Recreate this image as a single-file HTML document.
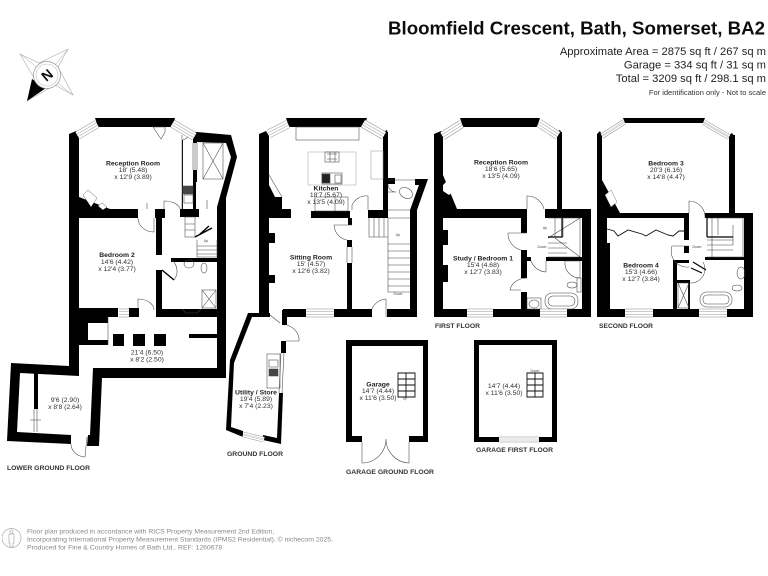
<!DOCTYPE html>
<html><head><meta charset="utf-8"><style>
html,body{margin:0;padding:0;background:#fff;width:768px;height:576px;overflow:hidden}
svg{display:block}
text{font-family:"Liberation Sans",sans-serif}
.r{font-size:6.8px;fill:#333;text-anchor:middle}
.b{font-weight:bold;fill:#222}
.f{font-size:6.6px;font-weight:bold;fill:#333}
.a{font-size:11.2px;fill:#222;text-anchor:end}
.n{font-size:6.85px;fill:#888}
</style></head><body>
<svg width="768" height="576" viewBox="0 0 768 576" xmlns="http://www.w3.org/2000/svg">
<defs>
<filter id="s" x="0" y="0" width="100%" height="100%"><feGaussianBlur stdDeviation="0.35"/></filter>
<path id="win" d="M77.500,135.500L97,124M172.500,123.500L194.500,136.500M268.500,134L288,124M363,123.500L384,135.500M442.500,136L461.500,124M539,123L558,135.500M119,313H129M306,313H334M467,313H493M540,313H567M625,313H653M699,313H727"/>
<path id="win2" d="M602,136L624,122M704,122.500L729,137M243,434.500L264,439.500M499,439.500H539"/>
</defs>
<g filter="url(#s)">

<!-- LOWER GROUND -->
<g fill="#000">
<polygon points="69,134 76,131 79,136 79,197 110,209 138,209 138,218 79,218 79,308 118,308 118,317 79,317 79,345 79,376 20,373 17,432 71,435 71,444 7,441 11,363 69,366"/>
<polygon points="95,118 175,118 173,127 98,127"/>
<polygon points="193,132 197,132 231,135 237,157 226,198 226,378 102,378 99,446 87,446 88,435 90,435 93,368 217,368 217,207 231,157 226,143 197,142"/>
<rect x="155" y="209" width="10" height="9"/><rect x="156" y="218" width="6" height="37"/>
<rect x="156" y="270" width="6" height="47"/><rect x="156" y="309" width="61" height="8"/>
<rect x="180" y="209" width="19" height="8"/><rect x="171" y="258" width="46" height="4"/>
<rect x="193" y="170" width="4" height="12"/><rect x="193" y="134" width="4" height="9"/><rect x="193" y="182" width="3" height="27"/>
<rect x="129" y="308" width="10" height="9"/>
<rect x="113" y="334" width="11" height="12"/><rect x="133" y="334" width="12" height="12"/><rect x="154" y="334" width="12" height="12"/>
<rect x="189" y="334" width="28" height="4"/><rect x="79" y="340" width="29" height="5"/><rect x="79" y="317" width="29" height="6"/>
<rect x="34" y="373" width="4" height="36"/><rect x="79" y="323" width="9" height="17"/>
<rect x="182" y="140" width="1" height="70"/>
</g>
<g fill="#fff" stroke="#333" stroke-width=".4">
<polygon points="83,195 88,190 97,198 91,207"/><polygon points="98,206 102,203 107,207 103,210"/><rect x="88" y="323" width="20" height="17" stroke="none"/>
</g>
<g fill="none" stroke="#444" stroke-width=".55">
<path d="M138,218A16,14 0 0 0 154,232V218M164,209V201A16,9 0 0 1 180,209M172,260A18,16 0 0 1 174,280M138,309V299A16,11 0 0 1 154,310M71,444A15,13 0 0 0 85,457L87,437"/>
<path d="M147,203V209M207,200V209M34,409V432M37,409V432M30,420H41"/>
<path d="M182,135V209M183,140L193,135M153,127H165V132L161,139L157,133Z"/>
<rect x="203" y="143" width="20" height="36"/><path d="M203,143L223,179M223,143L203,179"/>
<rect x="183" y="186" width="10" height="8" fill="#444"/><rect x="184" y="195" width="9" height="8"/>
<rect x="185" y="217" width="10" height="20"/><path d="M185,224H195M185,230H195"/>
<path d="M197,240V257H217V240M197,246H217M197,250H217M197,254H217"/>
<ellipse cx="189" cy="264" rx="5" ry="4"/><ellipse cx="204" cy="268" rx="3" ry="5"/><rect x="202" y="290" width="14" height="18"/><path d="M202,290L216,308M216,290L202,308"/>
<path d="M182,309L186,313H197L201,309"/><path d="M108,317V345"/>
<path d="M193,143V170M197,143V170M195,143V170"/>
</g>
<path d="M195,237L212,228M199,235L209,226M162,270L174,280" stroke="#000" stroke-width="1.4" fill="none"/>

<!-- GROUND -->
<g fill="#000">
<polygon points="259,134 266,131 269,136 269,185 275,197 282,197 282,209 291,209 291,218 269,218 269,233 275,233 275,243 269,243 269,275 275,275 275,283 269,283 269,313 259,313"/>
<polygon points="248,313 270,313 270,317 252,317 234,363 231,427 243,431 243,437 226,430 230,360"/>
<polygon points="286,118 367,118 364,127 289,127"/>
<rect x="383" y="132" width="5" height="78"/><polygon points="383,132 387,130 388,134 383,134"/>
<rect x="311" y="211" width="39" height="7"/><rect x="348" y="218" width="4" height="7"/><rect x="368" y="210" width="20" height="8"/>
<rect x="347" y="240" width="5" height="7"/><rect x="347" y="263" width="5" height="47"/>
<rect x="283" y="309" width="23" height="8"/><rect x="334" y="309" width="38" height="8"/><rect x="387" y="309" width="30" height="8"/>
<polygon points="415,179 428,179 417,210 417,317 410,317 410,210 419,185 415,185"/>
<rect x="388" y="178" width="7" height="6"/>
<rect x="282" y="310" width="5" height="15"/>
<polygon points="263,435 277,438 279,393 283,393 281,444 263,440"/><rect x="281" y="341" width="5" height="12"/>
</g>
<g fill="none" stroke="#444" stroke-width=".55">
<path d="M269,175L282,197"/>
<rect x="296" y="127" width="63" height="13"/><rect x="308" y="152" width="48" height="33" stroke="#aaa"/><rect x="325" y="152" width="14" height="10"/><path d="M327,154H337M327,159H337M330,152V162M335,152V162"/>
<rect x="322" y="173" width="20" height="11"/><rect x="322" y="174" width="8" height="9" fill="#222"/><rect x="335" y="175" width="6" height="8"/>
<rect x="371" y="151" width="12" height="28" stroke="#999"/><rect x="315" y="197" width="33" height="14"/><path d="M335,197V211"/>
<path d="M352,210V205A16,18 0 0 1 368,196V210M352,225H334A16,16 0 0 0 347,240M347,247V263M352,247V263"/>
<path d="M372,309A16,16 0 0 1 386,299V317M388,180H415"/>
<path d="M369,218V237H388V218M374,218V237M379,218V237M384,218V237M388,210H410M388,218H410"/>
<path d="M388,237V292H410M388,244H410M388,251H410M388,258H410M388,265H410M388,272H410M388,279H410M388,286H410"/>
<ellipse cx="406" cy="193" rx="7" ry="5" transform="rotate(30 406 193)"/><path d="M388,184A8,8 0 0 0 396,192H388"/>
<path d="M270,315L280,323M287,325A20,16 0 0 1 299,341H286"/>
<rect x="267" y="354" width="13" height="34"/><rect x="269" y="360" width="9" height="7"/><rect x="269" y="369" width="9" height="7" fill="#444"/>
<path d="M281,353L279,393M284,353L282,393"/>
</g>

<!-- GARAGE -->
<path fill-rule="evenodd" d="M346,340H428V442H409V436H423V346H352V436H362V442H346Z" fill="#000"/>
<path fill-rule="evenodd" d="M474,340H557V442H539V437H552V345H479V437H499V442H474Z" fill="#000"/>
<g fill="none" stroke="#444" stroke-width=".55">
<path d="M362,442V463A24,24 0 0 0 386,439A24,24 0 0 0 409,463V442"/>
</g>
<g fill="none" stroke="#111" stroke-width=".9">
<path d="M398,373H415V397H398ZM398,379H415M398,385H415M398,391H415M406,373V397"/>
<path d="M527,373H543V397H527ZM527,379H543M527,385H543M527,391H543M535,373V397"/>
</g>

<!-- FIRST -->
<g fill="#000">
<polygon points="434,134 441,131 443,136 443,175 457,209 521,209 527,209 527,218 443,218 443,230 448,230 448,245 443,245 443,265 448,265 448,282 443,282 443,309 467,309 467,317 434,317"/>
<polygon points="460,118 540,118 537,127 463,127"/>
<rect x="557" y="132" width="5" height="78"/><polygon points="556,132 560,130 562,134"/>
<rect x="521" y="209" width="6" height="24"/><rect x="521" y="250" width="6" height="28"/><rect x="521" y="292" width="6" height="25"/>
<rect x="493" y="309" width="47" height="8"/><rect x="567" y="309" width="24" height="8"/>
<polygon points="545,209 591,209 591,317 582,317 582,218 545,218"/>
<rect x="525" y="257" width="6" height="4"/><rect x="546" y="257" width="36" height="4"/>
</g>
<polygon points="443,185 448,180 455,190 449,195 443,191" fill="#fff"/>
<g fill="none" stroke="#444" stroke-width=".55">
<path d="M527,209V196A17,17 0 0 1 544,209M527,233H508A17,17 0 0 0 521,250M531,261A17,17 0 0 0 546,272V261M527,278A17,14 0 0 0 510,290H521"/>
<path d="M548,218H580V257H548M548,238L580,218M555,238L580,257M548,243H567M548,248H567M548,253H567"/>
<path d="M555,218V237M563,218V237"/>
<rect x="545" y="293" width="33" height="16" rx="7"/><rect x="548" y="296" width="27" height="10" rx="5"/>
<rect x="527" y="298" width="14" height="11"/><ellipse cx="534" cy="304" rx="5" ry="4"/>
<path d="M565,261H580V278M565,261A15,15 0 0 0 580,278"/>
<ellipse cx="572" cy="285" rx="5" ry="3"/><rect x="577" y="278" width="4" height="14"/>
</g>
<path d="M548,237H562V218" fill="none" stroke="#000" stroke-width="1.2"/>

<!-- SECOND -->
<g fill="#000">
<polygon points="597,134 600,131 602,136 602,180 620,213 684,213 689,213 689,218 607,218 607,309 625,309 625,317 597,317"/>
<polygon points="623,118 705,118 703,123 625,123"/>
<rect x="729" y="135" width="6" height="78"/><polygon points="728,136 732,133 735,137"/>
<rect x="684" y="213" width="5" height="27"/><rect x="684" y="246" width="5" height="7"/>
<polygon points="705,213 753,213 753,317 744,317 744,218 705,218"/><rect x="705" y="257" width="39" height="3"/>
<rect x="653" y="309" width="46" height="8"/><rect x="727" y="309" width="26" height="8"/>
<rect x="673" y="260" width="4" height="57"/><rect x="673" y="260" width="16" height="3"/><rect x="677" y="280" width="13" height="3"/><rect x="688" y="283" width="2" height="26"/>
</g>
<polygon points="605,195 611,190 617,202 611,207" fill="#fff" stroke="#555" stroke-width=".4"/>
<rect x="607" y="218" width="3" height="25" fill="#fff"/>
<rect x="607" y="243" width="3" height="66" fill="#000"/>
<g fill="none" stroke="#444" stroke-width=".55">
<path d="M689,213V201A16,16 0 0 1 705,218M689,246H672A16,16 0 0 0 689,267"/>
<path d="M690,283A14,14 0 0 0 703,262"/>
<path d="M707,218H743V257H707M712,218V257M718,218V235M707,240H733M707,245H733M707,250H733M733,225V245"/>
<rect x="678" y="283" width="11" height="25"/><path d="M678,283L689,308M689,283L678,308"/>
<rect x="700" y="292" width="32" height="15" rx="7"/><rect x="703" y="295" width="26" height="9" rx="4"/>
<ellipse cx="741" cy="273" rx="4" ry="6"/><ellipse cx="737" cy="288" rx="5" ry="3"/>
</g>
<path d="M607,229L614,231L618,236L628,230L642,234L646,236L656,230L668,235L673,236L679,231H684" fill="none" stroke="#111" stroke-width=".9"/>
<path d="M707,237H733M707,218V237M693,262L706,270M691,268L702,273" fill="none" stroke="#000" stroke-width="1.2"/>

<!-- Windows -->
<g fill="none">
<use href="#win" stroke="#888" stroke-width="8.500"/>
<use href="#win" stroke="#fff" stroke-width="7.500"/>
<use href="#win" stroke="#aaa" stroke-width="3.200"/>
<use href="#win" stroke="#fff" stroke-width="2"/>
<use href="#win2" stroke="#888" stroke-width="5.500"/>
<use href="#win2" stroke="#fff" stroke-width="4.500"/>
<use href="#win2" stroke="#aaa" stroke-width="1.600"/>
<use href="#win2" stroke="#fff" stroke-width=".7"/>
</g>

<!-- Compass -->
<g>
<polygon points="20,54 39,63 68,49 58,67 73,95 55,85 27,101 37,83" fill="#fff" stroke="#aaa" stroke-width=".6"/>
<path d="M20,54L47,75M68,49L47,75M73,95L47,75M39,63L55,85M58,67L37,83" fill="none" stroke="#aaa" stroke-width=".5"/>
<polygon points="27,101 32,79 46,88" fill="#000"/>
<circle cx="47" cy="75" r="13.500" fill="#fff" stroke="#999" stroke-width=".7"/>
<circle cx="47" cy="75" r="11" fill="#fff" stroke="#bbb" stroke-width=".6"/>
<text x="47" y="80" font-size="14" font-weight="bold" text-anchor="middle" fill="#111" transform="rotate(-40 47 75)">N</text>
</g>

<!-- Footer icon -->
<circle cx="11.500" cy="538" r="9.500" fill="none" stroke="#aaa" stroke-width=".7"/>
<path d="M9,534H14V543H13V547H10V543H9Z" fill="none" stroke="#aaa" stroke-width=".7"/>
<circle cx="11.500" cy="531.500" r="1.600" fill="none" stroke="#aaa" stroke-width=".6"/>

<!-- Labels -->
<g>
<text class="r b" x="133" y="165.500">Reception Room</text><text class="r" x="133" y="172">18' (5.48)</text><text class="r" x="133" y="179">x 12'9 (3.89)</text>
<text class="r b" x="117" y="257">Bedroom 2</text><text class="r" x="117" y="264">14'6 (4.42)</text><text class="r" x="117" y="271">x 12'4 (3.77)</text>
<text class="r" x="147" y="354.500">21'4 (6.50)</text><text class="r" x="147" y="361.500">x 8'2 (2.50)</text>
<text class="r" x="65" y="402">9'6 (2.90)</text><text class="r" x="65" y="409">x 8'8 (2.64)</text>
<text class="r b" x="326" y="190.500">Kitchen</text><text class="r" x="326" y="197">18'7 (5.67)</text><text class="r" x="326" y="204">x 13'5 (4.09)</text>
<text class="r b" x="311" y="259.500">Sitting Room</text><text class="r" x="311" y="266">15' (4.57)</text><text class="r" x="311" y="273">x 12'6 (3.82)</text>
<text class="r b" x="256" y="394.500">Utility / Store</text><text class="r" x="256" y="401">19'4 (5.89)</text><text class="r" x="256" y="408">x 7'4 (2.23)</text>
<text class="r b" x="378" y="386.500">Garage</text><text class="r" x="378" y="393">14'7 (4.44)</text><text class="r" x="378" y="400">x 11'6 (3.50)</text>
<text class="r" x="504" y="388">14'7 (4.44)</text><text class="r" x="504" y="395">x 11'6 (3.50)</text>
<text class="r b" x="501" y="164.500">Reception Room</text><text class="r" x="501" y="171">18'6 (5.65)</text><text class="r" x="501" y="178">x 13'5 (4.09)</text>
<text class="r b" x="483" y="260.500">Study / Bedroom 1</text><text class="r" x="483" y="267">15'4 (4.68)</text><text class="r" x="483" y="274">x 12'7 (3.83)</text>
<text class="r b" x="666" y="165.500">Bedroom 3</text><text class="r" x="666" y="172">20'3 (6.16)</text><text class="r" x="666" y="179">x 14'8 (4.47)</text>
<text class="r b" x="641" y="267.500">Bedroom 4</text><text class="r" x="641" y="274">15'3 (4.66)</text><text class="r" x="641" y="281">x 12'7 (3.84)</text>

<g font-size="3.500" fill="#444" text-anchor="middle">
<text x="398" y="236">Up</text><text x="398" y="295">Down</text><text x="405" y="399.500">Up</text><text x="535" y="372">Down</text>
<text x="545" y="229">Up</text><text x="542" y="248">Down</text><text x="697" y="248">Down</text><text x="206" y="242">Up</text>
</g>

<text class="f" x="7" y="470" textLength="83" lengthAdjust="spacingAndGlyphs">LOWER GROUND FLOOR</text>
<text class="f" x="227" y="456" textLength="56" lengthAdjust="spacingAndGlyphs">GROUND FLOOR</text>
<text class="f" x="435" y="328" textLength="45" lengthAdjust="spacingAndGlyphs">FIRST FLOOR</text>
<text class="f" x="599" y="328" textLength="54" lengthAdjust="spacingAndGlyphs">SECOND FLOOR</text>
<text class="f" x="476" y="452" textLength="77" lengthAdjust="spacingAndGlyphs">GARAGE FIRST FLOOR</text>
<text class="f" x="346" y="474" textLength="88" lengthAdjust="spacingAndGlyphs">GARAGE GROUND FLOOR</text>

<text x="388" y="34.500" font-size="18.500" font-weight="bold" fill="#111" textLength="377" lengthAdjust="spacingAndGlyphs">Bloomfield Crescent, Bath, Somerset, BA2</text>
<text class="a" x="766" y="55">Approximate Area = 2875 sq ft / 267 sq m</text>
<text class="a" x="766" y="68.500">Garage = 334 sq ft / 31 sq m</text>
<text class="a" x="766" y="82">Total = 3209 sq ft / 298.1 sq m</text>
<text x="766" y="95" font-size="7.500" fill="#333" text-anchor="end">For identification only - Not to scale</text>

<text class="n" x="27" y="533.500">Floor plan produced in accordance with RICS Property Measurement 2nd Edition,</text>
<text class="n" x="27" y="541.500">Incorporating International Property Measurement Standards (IPMS2 Residential).   © nichecom 2025.</text>
<text class="n" x="27" y="549.500">Produced for Fine &amp; Country Homes of Bath Ltd..   REF: 1260678</text>
</g>
</g>
</svg>
</body></html>
